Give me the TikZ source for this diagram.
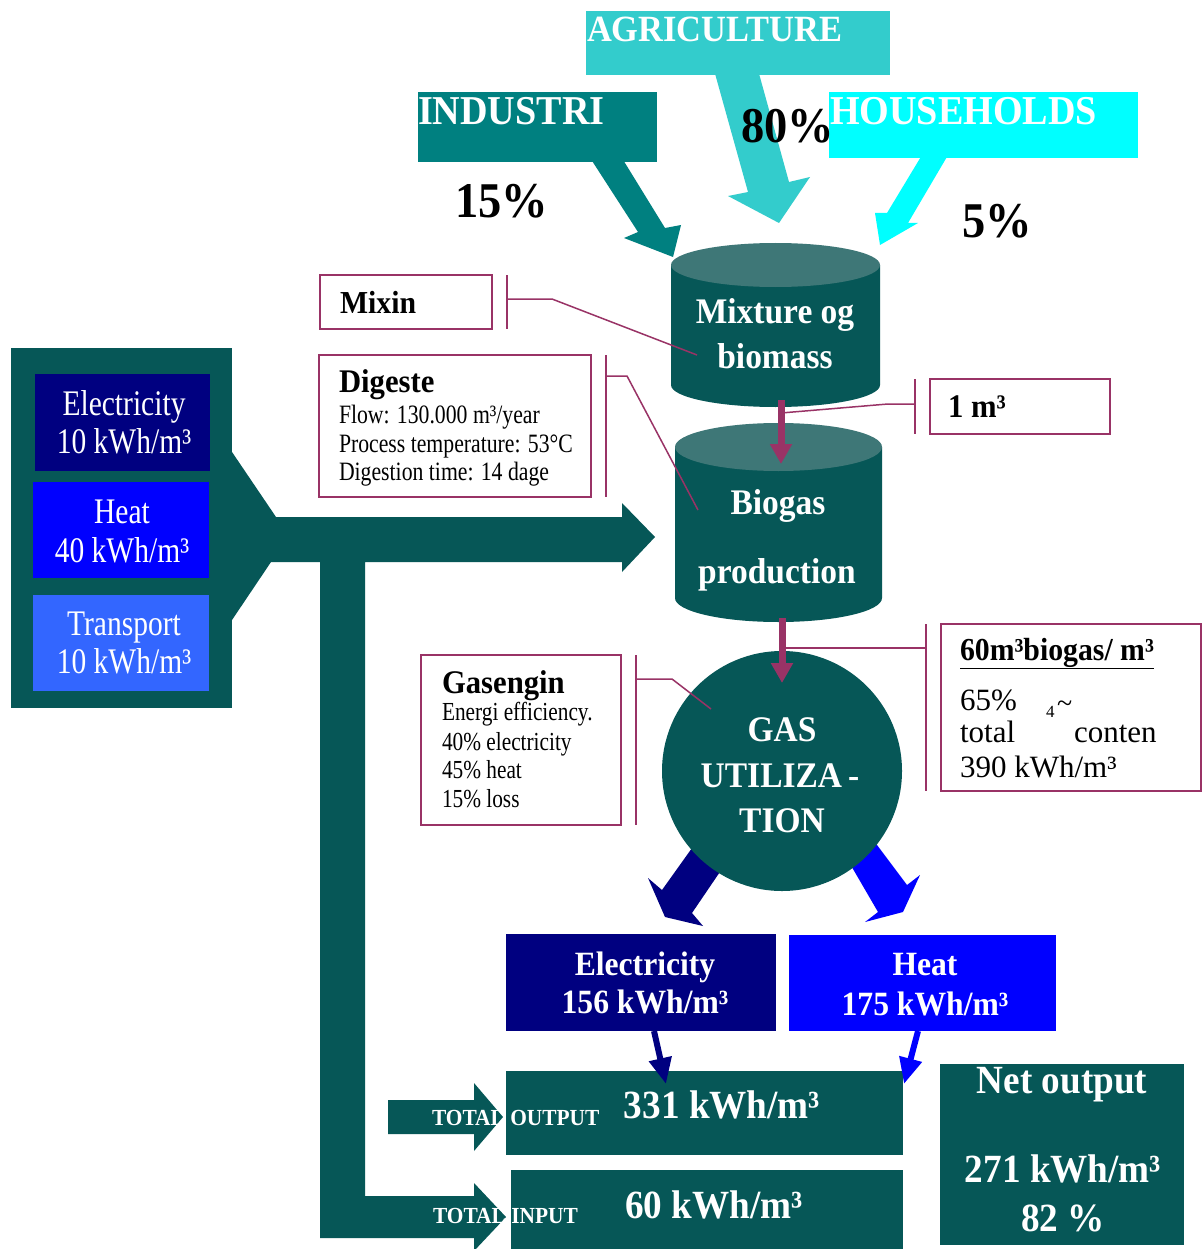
\documentclass[tikz,border=0pt]{standalone}
\usepackage{fontspec}
\setmainfont{Liberation Serif}[FakeStretch=0.82]
\newfontfamily\bfam{Liberation Serif}[FakeStretch=0.93]
\newfontfamily\nfam{Liberation Serif}
\usetikzlibrary{calc,arrows.meta}
\definecolor{dteal}{HTML}{065757}
\definecolor{cyltop}{HTML}{3E7777}
\definecolor{plum}{HTML}{993366}
\definecolor{navyb}{HTML}{000080}
\definecolor{blueb}{HTML}{0000FF}
\definecolor{lblue}{HTML}{3366FF}
\definecolor{tealb}{HTML}{008080}
\definecolor{aqua}{HTML}{33CCCC}
\definecolor{cyanb}{HTML}{00FFFF}
\newcommand{\fsz}[1]{\fontsize{#1}{#1}\selectfont}
\tikzset{
  rbox/.style={inner sep=0pt, outer sep=0pt, anchor=north west, draw=none},
  cbox/.style={inner sep=0pt, outer sep=0pt, anchor=north west, draw=plum, line width=1.8pt, fill=white},
  lead/.style={draw=plum, line width=1.5pt},
  flowarrow/.style={draw=plum, line width=7pt, -{Triangle[width=21pt,length=20pt]}},
  thinarrow/.style={line width=6pt, -{Triangle[width=22pt,length=26pt]}},
  txt/.style={inner sep=0pt, outer sep=0pt, anchor=base},
  txtl/.style={inner sep=0pt, outer sep=0pt, anchor=base west},
  wbold/.style={text=white, font={\bfam\bfseries\fsz{#1}}},
  wreg/.style={text=white, font={\fsz{#1}}},
  kbold/.style={text=black, font={\bfam\bfseries\fsz{#1}}},
  kreg/.style={text=black, font={\fsz{#1}}},
  knorm/.style={text=black, font={\nfam\fsz{#1}}},
}
\begin{document}
\begin{tikzpicture}[x=1pt,y=-1pt]
\useasboundingbox (0,0) rectangle (1203,1249);
\clip (0,0) rectangle (1203,1249);
\fill[white] (0,0) rectangle (1203,1249);

% ---------- main input flow (funnel, shaft, L to total input)
\fill[dteal] (232,452) -- (276,517) -- (622,517) -- (622,503) -- (655,537) -- (622,572) -- (622,562)
  -- (365,562) -- (365,1196) -- (474,1196) -- (474,1183) -- (506,1217) -- (474,1251) -- (474,1238)
  -- (320,1238) -- (320,562) -- (271,562) -- (232,620) -- cycle;
% total output arrow
\fill[dteal] (388,1100) -- (474,1100) -- (474,1083) -- (503,1117) -- (474,1151) -- (474,1134) -- (388,1134) -- cycle;

% ---------- left panel
\node[rbox, fill=dteal, minimum width=221pt, minimum height=360pt] (panel) at (11,348) {};
\node[rbox, fill=navyb, minimum width=175pt, minimum height=97pt] (elin) at (35,374) {};
\node[rbox, fill=blueb, minimum width=176pt, minimum height=96pt] (heatin) at (33,482) {};
\node[rbox, fill=lblue, minimum width=176pt, minimum height=96pt] (trin) at (33,595) {};
\node[txt, wreg=36] (elinA) at (124,415) {Electricity};
\node[txt, wreg=36] (elinB) at (124,453) {10 kWh/m³};
\node[txt, wreg=36] (heatinA) at (122,523) {Heat};
\node[txt, wreg=36] (heatinB) at (122,562) {40 kWh/m³};
\node[txt, wreg=36] (trinA) at (124,635) {Transport};
\node[txt, wreg=36] (trinB) at (124,673) {10 kWh/m³};

% ---------- source arrows
\fill[tealb] (585,150) -- (638,232) -- (624,238) -- (673,257) -- (681,225) -- (665,228) -- (617,150) -- cycle;
\fill[aqua] (714,70) -- (748,192) -- (728,196) -- (779,223) -- (810,177) -- (789,182) -- (758,70) -- cycle;
\fill[cyanb] (925,150) -- (887,213) -- (875,213) -- (880,245) -- (918,223) -- (908,223) -- (951,150) -- cycle;

% ---------- source boxes
\node[rbox, fill=aqua, minimum width=304pt, minimum height=64pt] (agri) at (586,11) {};
\node[rbox, fill=tealb, minimum width=239pt, minimum height=70pt] (indu) at (418,92) {};
\node[rbox, fill=cyanb, minimum width=309pt, minimum height=66pt] (hous) at (829,92) {};
\node[txtl, wbold=37] (agritxt) at (587,42) {AGRICULTURE};
\node[txtl, wbold=41] (indutxt) at (418,125) {INDUSTRI};
\node[txtl, wbold=41] (houstxt) at (830,125) {HOUSEHOLDS};
\node[txtl, kbold=50] (p80) at (741,143) {80\%};
\node[txtl, kbold=50] (p15) at (455,218) {15\%};
\node[txtl, kbold=50] (p5) at (962,238) {5\%};

% ---------- cylinders
\fill[dteal] (671,265) -- (671,385) arc[start angle=180, end angle=0, x radius=104.5, y radius=22] -- (880,265) -- cycle;
\fill[cyltop] (775.5,265) ellipse [x radius=104.5, y radius=22];
\fill[dteal] (675,447) -- (675,598) arc[start angle=180, end angle=0, x radius=103.5, y radius=24] -- (882,447) -- cycle;
\fill[cyltop] (778.5,447) ellipse [x radius=103.5, y radius=24];
\node[txt, wbold=36] (mixA) at (775,323) {Mixture og};
\node[txt, wbold=36] (mixB) at (775,368) {biomass};
\node[txt, wbold=36] (bioA) at (778,514) {Biogas};
\node[txt, wbold=36] (bioB) at (777,583) {production};

% ---------- output arrows and gas utilization circle
\fill[navyb] (712,820) -- (662,890) -- (648,878) -- (665,917) -- (703,926) -- (692,913) -- (745,835) -- cycle;
\fill[blueb] (856,817) -- (907,885) -- (920,875) -- (903,912) -- (865,922) -- (878,912) -- (828,826) -- cycle;
\node[circle, fill=dteal, minimum size=240pt, inner sep=0pt] (gas) at (782,771) {};
\node[txt, wbold=36] (gasA) at (782,741) {GAS};
\node[txt, wbold=36] (gasB) at (780,787) {UTILIZA\,-};
\node[txt, wbold=36] (gasC) at (782,832) {TION};

% ---------- purple flow arrows
\coordinate (c1b) at (781,400);
\coordinate (c2t) at (781,464);
\coordinate (c2b) at (782,618);
\coordinate (gasin) at (782,683);
\draw[flowarrow] (c1b) -- (c2t);
\draw[flowarrow] (c2b) -- (gasin);

% ---------- callouts
\node[cbox, minimum width=172pt, minimum height=54pt] (mixin) at (320,275) {};
\node[txtl, kbold=32] (mixintxt) at (340,313) {Mixin};
\coordinate (mixbarT) at (507,275); \coordinate (mixbarB) at (507,329);
\coordinate (mixk) at (507,299); \coordinate (mixj) at (552,299); \coordinate (mixe) at (697,355);
\draw[lead] (mixbarT) -- (mixbarB);
\draw[lead] (mixk) -- (mixj) -- (mixe);

\node[cbox, minimum width=272pt, minimum height=142pt] (dig) at (319,355) {};
\node[txtl, kbold=33] (digT) at (339,392) {Digeste};
\node[txtl, kreg=26.5] (digA) at (339,423) {Flow: 130.000 m³/year};
\node[txtl, kreg=26.5] (digB) at (339,452) {Process temperature: 53°C};
\node[txtl, kreg=26.5] (digC) at (339,480) {Digestion time: 14 dage};
\coordinate (digbarT) at (606,355); \coordinate (digbarB) at (606,497);
\coordinate (digk) at (606,376); \coordinate (digj) at (627,376); \coordinate (dige) at (698,510);
\draw[lead] (digbarT) -- (digbarB);
\draw[lead] (digk) -- (digj) -- (dige);

\node[cbox, minimum width=180pt, minimum height=55pt] (onem) at (930,379) {};
\node[txtl, kbold=33] (onemtxt) at (948,417) {1 m³};
\coordinate (onebarT) at (915,379); \coordinate (onebarB) at (915,434);
\coordinate (onek) at (915,404); \coordinate (onej) at (888,404); \coordinate (onee) at (781,413);
\draw[lead] (onebarT) -- (onebarB);
\draw[lead] (onek) -- (onej) -- (onee);

\node[cbox, minimum width=200pt, minimum height=170pt] (geng) at (421,655) {};
\node[txtl, kbold=33] (gengT) at (442,693) {Gasengin};
\node[txtl, kreg=26] (gengA) at (442,720) {Energi efficiency.};
\node[txtl, kreg=26] (gengB) at (442,750) {40\% electricity};
\node[txtl, kreg=26] (gengC) at (442,778) {45\% heat};
\node[txtl, kreg=26] (gengD) at (442,807) {15\% loss};
\coordinate (gbarT) at (636,655); \coordinate (gbarB) at (636,825);
\coordinate (gk) at (636,679); \coordinate (gj) at (672,679); \coordinate (ge) at (711,709);
\draw[lead] (gbarT) -- (gbarB);
\draw[lead] (gk) -- (gj) -- (ge);

\node[cbox, minimum width=260pt, minimum height=167pt] (bg) at (941,624) {};
\node[txtl, kbold=32] (bgT) at (960,660) {\underline{60m³biogas/ m³}};
\node[txtl, knorm=31] (bgA) at (960,710) {65\%};
\node[txtl, knorm=17] (bgA4) at (1046,717) {4};
\node[txtl, knorm=28] (bgAt) at (1057,712) {\textasciitilde};
\node[txtl, knorm=31] (bgB) at (960,742) {total};
\node[txtl, knorm=31] (bgB2) at (1074,742) {conten};
\node[txtl, knorm=31] (bgC) at (960,777) {390 kWh/m³};
\coordinate (bbarT) at (926,624); \coordinate (bbarB) at (926,791);
\coordinate (bk) at (926,648); \coordinate (be) at (782,648);
\draw[lead] (bbarT) -- (bbarB);
\draw[lead] (bk) -- (be);

% ---------- output boxes
\node[rbox, fill=navyb, minimum width=270pt, minimum height=97pt] (elout) at (506,934) {};
\node[rbox, fill=blueb, minimum width=267pt, minimum height=96pt] (heatout) at (789,935) {};
\node[txt, wbold=34] (eloutA) at (645,975) {Electricity};
\node[txt, wbold=34] (eloutB) at (645,1013) {156 kWh/m³};
\node[txt, wbold=34] (heatoutA) at (925,975) {Heat};
\node[txt, wbold=34] (heatoutB) at (925,1015) {175 kWh/m³};

\node[rbox, fill=dteal, minimum width=397pt, minimum height=84pt] (outbox) at (506,1071) {};
\node[rbox, fill=dteal, minimum width=392pt, minimum height=80pt] (inbox) at (511,1170) {};
\node[rbox, fill=dteal, minimum width=244pt, minimum height=181pt] (netbox) at (940,1064) {};
\node[txt, wbold=40] (outtxt) at (722,1118) {331 kWh/m³};
\node[txt, wbold=40] (intxt) at (714,1218) {60 kWh/m³};
\node[txt, wbold=40] (netA) at (1062,1093) {Net output};
\node[txt, wbold=40] (netB) at (1063,1182) {271 kWh/m³};
\node[txt, wbold=40] (netC) at (1063,1231) {82 \%};
\node[txtl, wbold=23] (totout) at (432,1125) {TOTAL OUTPUT};
\node[txtl, wbold=23] (totin) at (433,1223) {TOTAL INPUT};

% ---------- thin arrows into total output
\coordinate (eo1) at (654,1031); \coordinate (eo2) at (666,1084);
\coordinate (ho1) at (918,1031); \coordinate (ho2) at (904,1084);
\draw[thinarrow, color=navyb] (eo1) -- (eo2);
\draw[thinarrow, color=blueb] (ho1) -- (ho2);
\end{tikzpicture}
\end{document}
